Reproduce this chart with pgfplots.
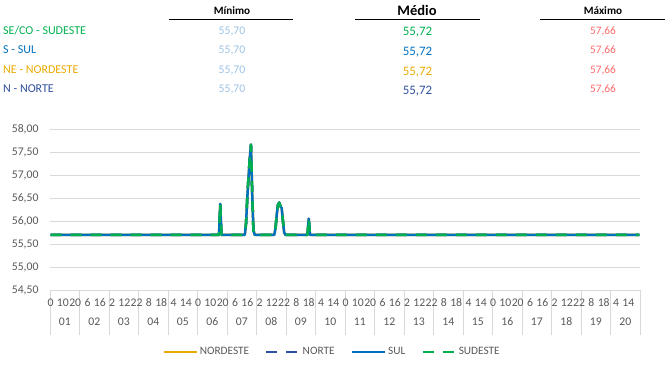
\documentclass[border=0pt]{standalone}
\usepackage{fontspec}
\setmainfont{Carlito}
\usepackage{pgfplots}
\pgfplotsset{compat=1.18}
\definecolor{gtxt}{HTML}{595959}
\definecolor{cgreen}{HTML}{00B050}
\definecolor{cblue}{HTML}{0070C0}
\definecolor{cgold}{HTML}{EBAA00}
\definecolor{cnavy}{HTML}{2F4F9F}
\definecolor{cmin}{HTML}{9DC3E6}
\definecolor{cmax}{HTML}{FF6B6B}
\definecolor{cgrid}{HTML}{D9D9D9}
\newcommand{\fs}[1]{\fontsize{#1}{#1}\selectfont}
\begin{document}
\begin{tikzpicture}
\useasboundingbox (0,0) rectangle (666pt,-388pt);
% header table
\node[anchor=base,inner sep=0,font=\bfseries\fs{11.2}] at (232pt,-14pt) {Mínimo};
\draw[line width=0.8pt] (169pt,-19pt) -- (293pt,-19pt);
\node[anchor=base,inner sep=0,font=\bfseries\fs{14.5}] at (417pt,-16pt) {Médio};
\draw[line width=0.8pt] (355pt,-19.7pt) -- (480pt,-19.7pt);
\node[anchor=base,inner sep=0,font=\bfseries\fs{11.2}] at (603pt,-14pt) {Máximo};
\draw[line width=0.8pt] (540pt,-19.5pt) -- (665pt,-19.5pt);
% rows
\node[anchor=base west,inner sep=0,font=\fs{12},text=cgreen] at (3pt,-34pt) {SE/CO - SUDESTE};
\node[anchor=base west,inner sep=0,font=\fs{12},text=cblue] at (3pt,-53.3pt) {S - SUL};
\node[anchor=base west,inner sep=0,font=\fs{12},text=cgold] at (3pt,-73.3pt) {NE - NORDESTE};
\node[anchor=base west,inner sep=0,font=\fs{12},text=cnavy] at (3pt,-92.3pt) {N - NORTE};
\foreach \yy in {34,53.3,73.3,92.3} {
  \node[anchor=base,inner sep=0,font=\fs{11.7},text=cmin] at (232pt,-\yy pt) {55,70};
  \node[anchor=base,inner sep=0,font=\fs{11.4},text=cmax] at (603pt,-\yy pt) {57,66};
}
\node[anchor=base,inner sep=0,font=\fs{12.9},text=cgreen] at (417.5pt,-35.7pt) {55,72};
\node[anchor=base,inner sep=0,font=\fs{12.9},text=cblue] at (417.5pt,-55.3pt) {55,72};
\node[anchor=base,inner sep=0,font=\fs{12.9},text=cgold] at (417.5pt,-75pt) {55,72};
\node[anchor=base,inner sep=0,font=\fs{12.9},text=cnavy] at (417.5pt,-94pt) {55,72};
\begin{axis}[
  at={(50pt,-290pt)}, anchor=south west,
  scale only axis, width=590pt, height=161pt,
  xmin=0, xmax=480, ymin=54.5, ymax=58,
  axis line style={draw=none},
  tick pos=left,
  major tick length=0pt,
  ytick={54.5,55,...,58},
  ymajorgrids, grid style={cgrid,line width=0.9pt},
  yticklabel style={font=\fs{11.7},text=gtxt,xshift=-8pt,
    /pgf/number format/.cd,fixed,fixed zerofill,precision=2,use comma,assume math mode=true},
  xtick={0.5,10.5,...,470.5},
  xticklabels={0,10,20,6,16,2,12,22,8,18,4,14,0,10,20,6,16,2,12,22,8,18,4,14,0,10,20,6,16,2,12,22,8,18,4,14,0,10,20,6,16,2,12,22,8,18,4,14},
  xticklabel style={font=\fs{11.7},text=gtxt,yshift=-5pt},
  minor xtick={0,24,...,480},
  minor tick length=45pt,
  tick align=outside,
  minor tick style={cgrid,line width=0.9pt},
  extra x ticks={12,36,...,468},
  extra x tick labels={01,02,03,04,05,06,07,08,09,10,11,12,13,14,15,16,17,18,19,20},
  extra x tick style={xmajorgrids=false,major tick length=0pt,xticklabel style={yshift=-19pt}},
  clip=false,
  legend columns=4,
  legend style={at={(0.478,-0.385)},anchor=center,draw=none,fill=none,
    font=\fs{11.3},text=gtxt,
    /tikz/every even column/.append style={column sep=14pt}},
  legend image code/.code={\draw[#1] (0pt,0pt) -- (33pt,0pt);},
  every axis plot/.append style={line width=2.5pt,line join=round},
]
\addplot[cgold] coordinates {(0.5,55.70) (137.5,55.70) (138.5,56.37) (139.5,55.70) (158.5,55.70) (159.5,55.95) (160.5,56.50) (161.5,56.95) (162.5,57.35) (163.5,57.66) (164.5,56.60) (165.5,55.80) (166.5,55.70) (182.5,55.70) (183.5,55.85) (184.5,56.15) (185.5,56.35) (186.5,56.40) (187.5,56.32) (188.5,56.28) (189.5,56.00) (190.5,55.75) (191.5,55.70) (209.5,55.70) (210.5,56.05) (211.5,55.70) (479.5,55.70)};
\addlegendentry{NORDESTE}
\addplot[cnavy,dash pattern=on 11pt off 9pt] coordinates {(0.5,55.70) (137.5,55.70) (138.5,56.37) (139.5,55.70) (158.5,55.70) (159.5,55.95) (160.5,56.50) (161.5,56.95) (162.5,57.35) (163.5,57.66) (164.5,56.60) (165.5,55.80) (166.5,55.70) (182.5,55.70) (183.5,55.85) (184.5,56.15) (185.5,56.35) (186.5,56.40) (187.5,56.32) (188.5,56.28) (189.5,56.00) (190.5,55.75) (191.5,55.70) (209.5,55.70) (210.5,56.05) (211.5,55.70) (479.5,55.70)};
\addlegendentry{NORTE}
\addplot[cblue] coordinates {(0.5,55.70) (137.5,55.70) (138.5,56.37) (139.5,55.70) (158.5,55.70) (159.5,55.95) (160.5,56.50) (161.5,56.95) (162.5,57.35) (163.5,57.66) (164.5,56.60) (165.5,55.80) (166.5,55.70) (182.5,55.70) (183.5,55.85) (184.5,56.15) (185.5,56.35) (186.5,56.40) (187.5,56.32) (188.5,56.28) (189.5,56.00) (190.5,55.75) (191.5,55.70) (209.5,55.70) (210.5,56.05) (211.5,55.70) (479.5,55.70)};
\addlegendentry{SUL}
\addplot[cgreen,dash pattern=on 11pt off 9pt] coordinates {(0.5,55.70) (137.5,55.70) (138.5,56.37) (139.5,55.70) (158.5,55.70) (159.5,55.95) (160.5,56.50) (161.5,56.95) (162.5,57.35) (163.5,57.66) (164.5,56.60) (165.5,55.80) (166.5,55.70) (182.5,55.70) (183.5,55.85) (184.5,56.15) (185.5,56.35) (186.5,56.40) (187.5,56.32) (188.5,56.28) (189.5,56.00) (190.5,55.75) (191.5,55.70) (209.5,55.70) (210.5,56.05) (211.5,55.70) (479.5,55.70)};
\addlegendentry{SUDESTE}
\end{axis}
\end{tikzpicture}
\end{document}
